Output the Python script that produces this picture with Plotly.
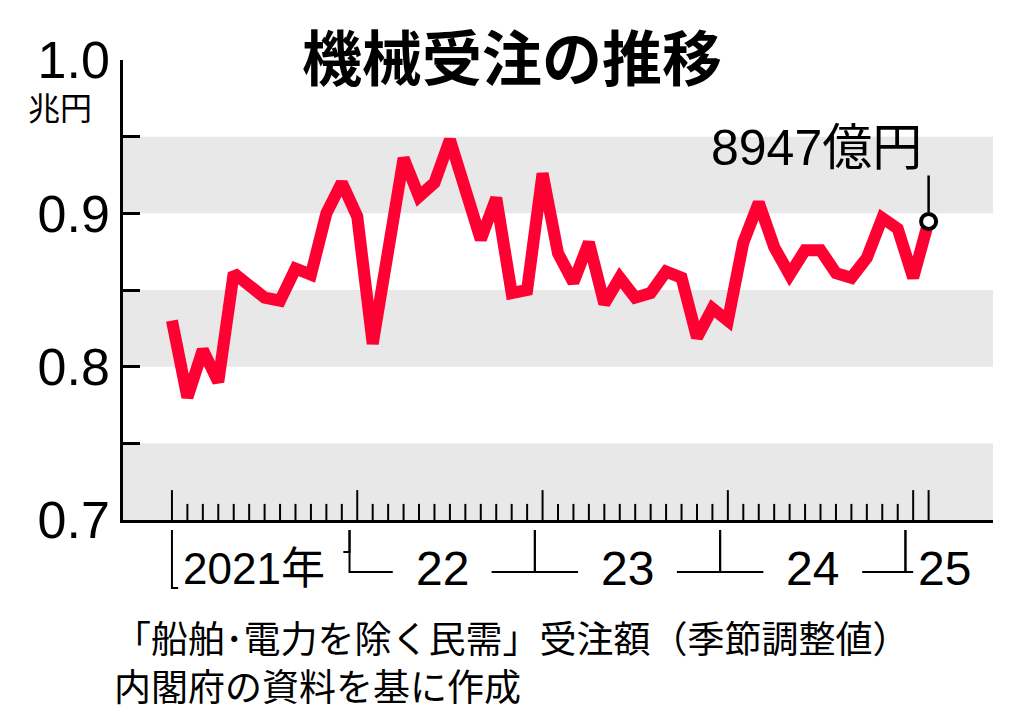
import plotly.graph_objects as go

# 機械受注（船舶・電力を除く民需、季節調整値）兆円, 2021年1月〜2025年2月
v2021 = [0.830, 0.780, 0.811, 0.790, 0.861, 0.852, 0.845, 0.843, 0.864, 0.860, 0.900, 0.920]
v2022 = [0.898, 0.815, 0.874, 0.936, 0.911, 0.920, 0.948, 0.917, 0.883, 0.910, 0.848, 0.850]
v2023 = [0.926, 0.874, 0.855, 0.881, 0.841, 0.858, 0.845, 0.848, 0.862, 0.858, 0.819, 0.838]
v2024 = [0.830, 0.881, 0.907, 0.878, 0.860, 0.876, 0.876, 0.861, 0.858, 0.871, 0.897, 0.890]
v2025 = [0.858, 0.8947]
values = v2021 + v2022 + v2023 + v2024 + v2025
months = list(range(len(values)))

year_labels = ["2021年", "22", "23", "24", "25"]
last_label = "8947億円"

NUM = "Liberation Sans Narrow, Liberation Sans, Arial"
JP = "Noto Sans CJK JP"

fig = go.Figure()

# gray bands
for lo in [0.70, 0.80, 0.90]:
    fig.add_shape(type="rect", xref="paper", yref="y", x0=0, x1=1, y0=lo, y1=lo + 0.05,
                  fillcolor="#e8e8e8", line_width=0, layer="below")

fig.add_trace(go.Scatter(x=months, y=values, mode="lines",
                         line=dict(color="#ff0033", width=12), hoverinfo="skip"))
fig.add_trace(go.Scatter(x=[months[-1]], y=[values[-1]], mode="markers",
                         marker=dict(size=15, color="white", line=dict(color="black", width=4)),
                         hoverinfo="skip"))

# leader line and label for last value
fig.add_shape(type="line", xref="x", yref="y", x0=months[-1], x1=months[-1],
              y0=values[-1] + 0.006, y1=values[-1] + 0.03, line=dict(color="black", width=2.5))
fig.add_annotation(x=months[-1] - 14.2, y=values[-1] + 0.048, xref="x", yref="y",
                   text=last_label, showarrow=False, xanchor="left", yanchor="middle",
                   font=dict(family=NUM + ", " + JP, size=50, color="black"))

# month ticks (inside), tall ones at January and at the last month
for m in months:
    tall = (m % 12 == 0) or m == months[-1]
    fig.add_shape(type="line", xref="x", yref="paper", x0=m, x1=m, y0=0,
                  y1=0.065 if tall else 0.035, line=dict(color="black", width=2))


def pix(p):
    # pixel row (reference coords) -> paper y
    return (520 - p) / 460


def note(x_px, y_px, text, size, family=JP, xanchor="center"):
    fig.add_annotation(x=(x_px - 123) / 870, y=pix(y_px), xref="paper", yref="paper",
                       text=text, showarrow=False, xanchor=xanchor, yanchor="middle",
                       font=dict(family=family, size=size, color="black"))


# year brackets below axis
for i, lab in enumerate(year_labels):
    start = i * 12
    end = min(start + 11, months[-1])
    if i == 0:
        fig.add_shape(type="path", xref="x", yref="paper",
                      path=f"M {start},{pix(530)} L {start},{pix(588)} L {start+0.4},{pix(588)}",
                      line=dict(color="black", width=2))
        fig.add_shape(type="path", xref="x", yref="paper",
                      path=f"M {end+0.1},{pix(552)} L {end+0.5},{pix(552)} L {end+0.5},{pix(530)}",
                      line=dict(color="black", width=2))
        fig.add_annotation(x=start + 5.3, y=pix(568), xref="x", yref="paper", text=lab,
                           showarrow=False, yanchor="middle",
                           font=dict(family=NUM + ", " + JP, size=44, color="black"))
    elif i < len(year_labels) - 1:
        fig.add_shape(type="path", xref="x", yref="paper",
                      path=f"M {start-0.5},{pix(530)} L {start-0.5},{pix(572)} L {start+2.3},{pix(572)}",
                      line=dict(color="black", width=2))
        fig.add_shape(type="path", xref="x", yref="paper",
                      path=f"M {end-2.3},{pix(572)} L {end+0.5},{pix(572)} L {end+0.5},{pix(530)}",
                      line=dict(color="black", width=2))
        fig.add_annotation(x=start + 5.5, y=pix(568), xref="x", yref="paper", text=lab,
                           showarrow=False, yanchor="middle",
                           font=dict(family=NUM, size=48, color="black"))
    else:
        fig.add_shape(type="path", xref="x", yref="paper",
                      path=f"M {start-0.5},{pix(530)} L {start-0.5},{pix(572)} L {start},{pix(572)}",
                      line=dict(color="black", width=2))
        fig.add_annotation(x=start + 0.2, y=pix(568), xref="x", yref="paper", text=lab,
                           xanchor="left", yanchor="middle", showarrow=False,
                           font=dict(family=NUM, size=48, color="black"))

# title and notes
note(512, 55, "<b>機械受注の推移</b>", 60)
note(60, 106, "兆円", 32)
note(112, 637, "「船舶･電力を除く民需」受注額（季節調整値）", 37, xanchor="left")
note(112, 685, "内閣府の資料を基に作成", 37, xanchor="left")

fig.update_xaxes(range=[-3.17, 53.17], showgrid=False, zeroline=False, showticklabels=False,
                 showline=True, linecolor="black", linewidth=2.5, ticks="")
fig.update_yaxes(range=[0.7, 1.0], showgrid=False, zeroline=False, showline=True,
                 linecolor="black", linewidth=2.5, tickvals=[0.70, 0.75, 0.80, 0.85, 0.90, 0.95, 1.0],
                 ticktext=["0.7", "", "0.8", "", "0.9", "", "1.0"],
                 ticks="inside", ticklen=17, tickwidth=2.5, tickcolor="black",
                 tickfont=dict(family=NUM, size=52, color="black"))
fig.update_layout(width=1024, height=725, margin=dict(l=115, r=39, t=52, b=213),
                  plot_bgcolor="white", paper_bgcolor="white", showlegend=False)

fig.write_html("out.html")
